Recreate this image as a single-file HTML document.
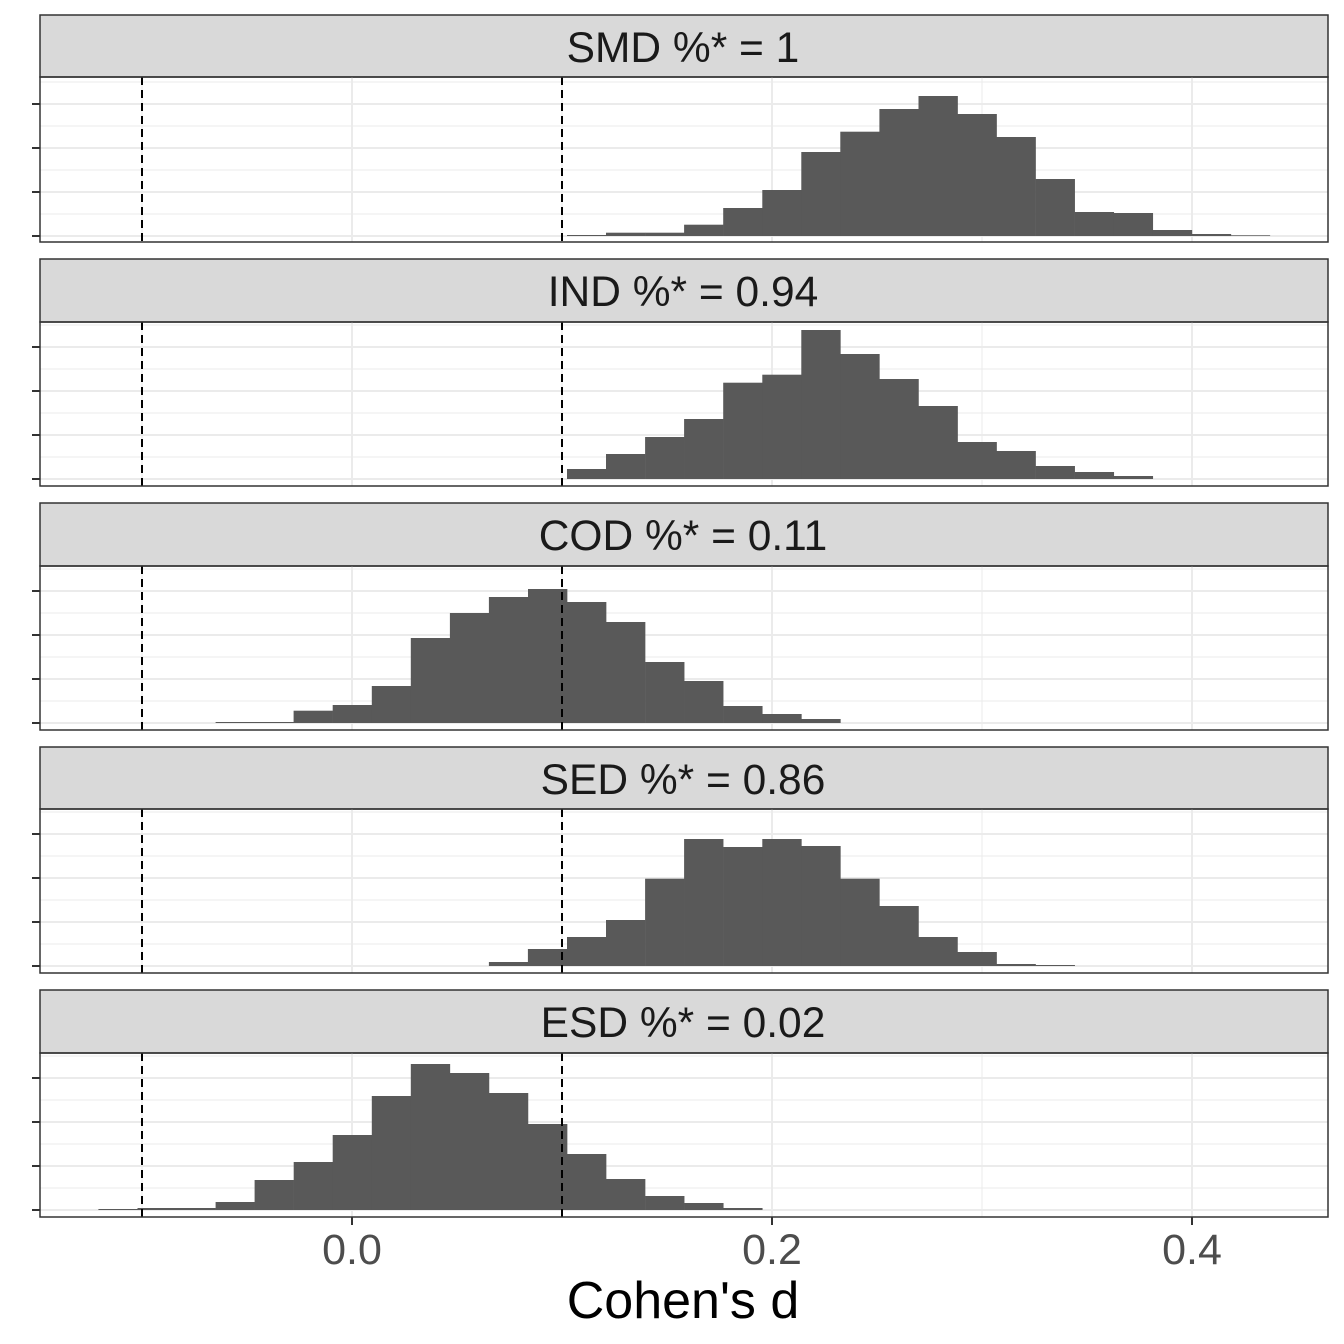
<!DOCTYPE html>
<html><head><meta charset="utf-8"><style>
html,body{margin:0;padding:0;background:#fff}
svg{display:block}
</style></head><body>
<svg id="s" width="1344" height="1344" xmlns="http://www.w3.org/2000/svg" font-family="Liberation Sans, Arial, sans-serif">
<rect width="1344" height="1344" fill="#fff"/>
<g id="g"></g>
<g font-size="42.5" fill="#1a1a1a" text-anchor="middle">
<text x="683" y="62">SMD %* = 1</text>
<text x="683" y="306">IND %* = 0.94</text>
<text x="683" y="550">COD %* = 0.11</text>
<text x="683" y="794">SED %* = 0.86</text>
<text x="683" y="1037">ESD %* = 0.02</text>
</g>
<g font-size="43" fill="#4d4d4d" text-anchor="middle">
<text x="352" y="1264">0.0</text>
<text x="772" y="1264">0.2</text>
<text x="1192" y="1264">0.4</text>
</g>
<text x="683" y="1318" font-size="52" text-anchor="middle" fill="#000">Cohen's d</text>
</svg>
<script>
var g=document.getElementById('g');var h='';
var W=39.05;
var P=[
{st:15,t:77,b:242,off:77,k:0,tops:[474,467,467,443,393,339,225,164,96,57,111,180,306,405,408,459,471,475]},
{st:259,t:322,b:486,off:320,k:0,tops:[447,402,351,297,188,164,30,102,177,258,366,393,438,456,468]},
{st:503,t:566,b:730,off:564,k:-9,tops:[474,474,440,423,366,222,147,99,75,114,174,294,351,426,450,465]},
{st:747,t:809,b:973,off:807,k:-2,tops:[465,426,390,339,215,96,120,96,117,215,297,390,435,471,474]},
{st:990,t:1053,b:1217,off:1051,k:-12,tops:[474,471,471,453,387,333,252,135,39,66,126,219,309,384,435,456,471]}
];
P.forEach(function(p){
 var base=p.off+159;var start=567+p.k*W;
 h+='<rect x="40" y="'+p.st+'" width="1288" height="'+(p.t-p.st)+'" fill="#d9d9d9" stroke="#333" stroke-width="1.5"/>';
 [22,66,110,154].forEach(function(d){var y=base-d;if(y>p.t)h+='<line x1="40" x2="1328" y1="'+y+'" y2="'+y+'" stroke="#ebebeb" stroke-width="1"/>';});
 [142,562,982].forEach(function(x){h+='<line x1="'+x+'" x2="'+x+'" y1="'+p.t+'" y2="'+p.b+'" stroke="#ebebeb" stroke-width="1"/>';});
 [0,44,88,132].forEach(function(d){var y=base-d;h+='<line x1="40" x2="1328" y1="'+y+'" y2="'+y+'" stroke="#ebebeb" stroke-width="2"/>';
   h+='<line x1="32" x2="40" y1="'+y+'" y2="'+y+'" stroke="#333" stroke-width="2"/>';});
 [352,772,1192].forEach(function(x){h+='<line x1="'+x+'" x2="'+x+'" y1="'+p.t+'" y2="'+p.b+'" stroke="#ebebeb" stroke-width="2"/>';});
 p.tops.forEach(function(tp,i){var y=p.off+tp/3;var x=start+i*W;
   h+='<rect x="'+x.toFixed(1)+'" y="'+y.toFixed(1)+'" width="'+(W+0.3)+'" height="'+(base-y).toFixed(1)+'" fill="#595959"/>';});
 [142,562].forEach(function(x){h+='<line x1="'+x+'" x2="'+x+'" y1="'+p.t+'" y2="'+p.b+'" stroke="#000" stroke-width="2" stroke-dasharray="8,5"/>';});
 h+='<rect x="40" y="'+p.t+'" width="1288" height="'+(p.b-p.t)+'" fill="none" stroke="#333" stroke-width="1.5"/>';
});
[352,772,1192].forEach(function(x){h+='<line x1="'+x+'" x2="'+x+'" y1="1217" y2="1225" stroke="#333" stroke-width="2"/>';});
g.innerHTML=h;
</script>
</body></html>
